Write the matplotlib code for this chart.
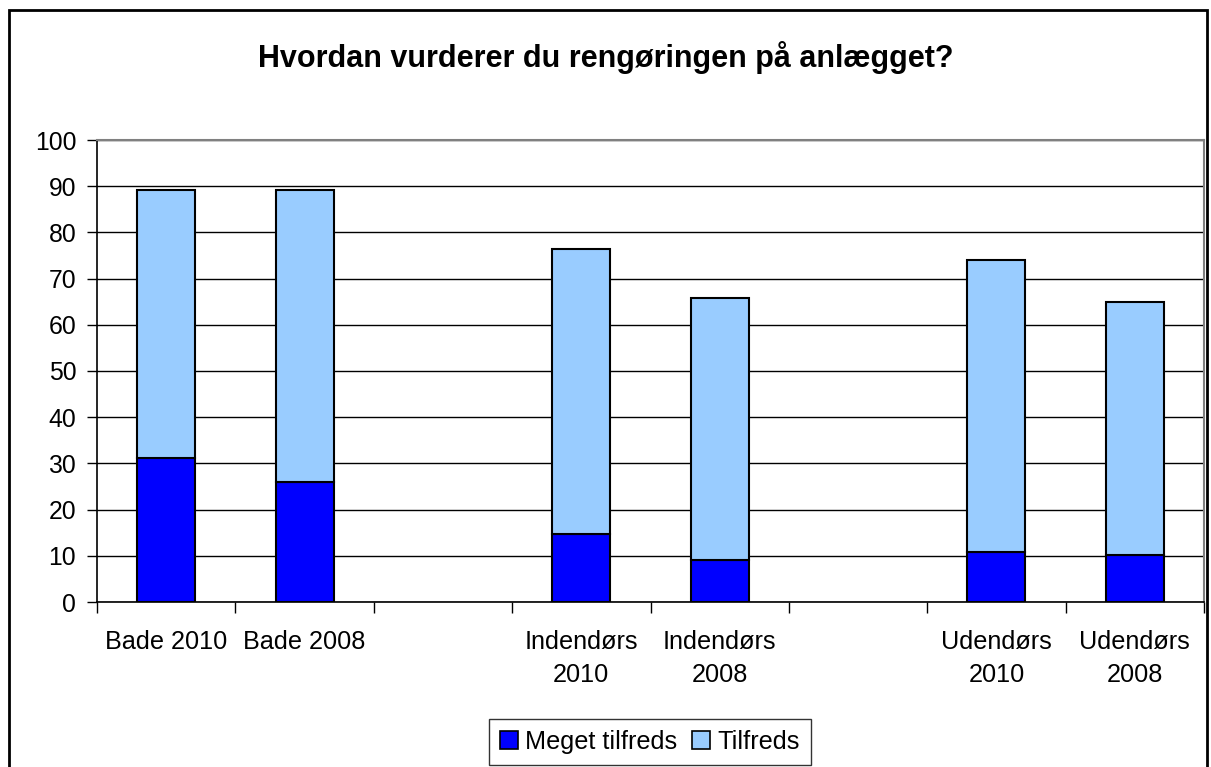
import matplotlib
matplotlib.use("Agg")
import matplotlib.pyplot as plt
from matplotlib.patches import Rectangle, Patch
import numpy as np

plt.rcParams['font.family'] = ['Liberation Sans', 'DejaVu Sans']

categories = ["Bade 2010", "Bade 2008", "", "Indendørs\n2010", "Indendørs\n2008", "", "Udendørs\n2010", "Udendørs\n2008"]
meget_tilfreds = [31.2, 26.0, np.nan, 14.7, 9.1, np.nan, 10.9, 10.1]
tilfreds = [58.0, 63.2, np.nan, 61.8, 56.6, np.nan, 63.1, 54.8]
series_names = ["Meget tilfreds", "Tilfreds"]
colors = ["#0000FF", "#99CCFF"]
title = "Hvordan vurderer du rengøringen på anlægget?"

W, H = 1211, 767
fig = plt.figure(figsize=(W / 100, H / 100), dpi=100)
ax = fig.add_axes([97 / W, 1 - 602 / H, (1204 - 97) / W, (602 - 140) / H])

x = np.arange(len(categories))
mt = np.array(meget_tilfreds)
t = np.array(tilfreds)
bw = 0.42
ax.bar(x, mt, width=bw, color=colors[0], edgecolor="black", linewidth=1.5, zorder=3)
ax.bar(x, t, width=bw, bottom=mt, color=colors[1], edgecolor="black", linewidth=1.5, zorder=3)

ax.set_xlim(-0.5, len(categories) - 0.5)
ax.set_ylim(0, 100)
ax.set_yticks(np.arange(0, 101, 10))
ax.tick_params(axis='y', labelsize=17.8, length=7, width=1, direction='out', pad=8)
ax.yaxis.grid(True, color="black", linewidth=1, zorder=0)
ax.set_axisbelow(True)

ax.set_xticks(x)
ax.set_xticklabels(categories, fontsize=18.2, linespacing=1.5, va='top')
ax.tick_params(axis='x', length=0, pad=20)
ax.set_xticks(np.arange(-0.5, len(categories), 1), minor=True)
ax.tick_params(axis='x', which='minor', length=8, width=1, direction='out')

for s in ['left', 'bottom']:
    ax.spines[s].set_color('black')
    ax.spines[s].set_linewidth(1.2)
for s in ['top', 'right']:
    ax.spines[s].set_color('#808080')
    ax.spines[s].set_linewidth(1.5)

fig.text(606 / W, 1 - 57 / H, title, fontsize=22, fontweight='bold', ha='center', va='center')

handles = [Patch(facecolor=colors[i], edgecolor='black', linewidth=1.2) for i in range(2)]
leg = fig.legend(handles, series_names, loc='center', bbox_to_anchor=(650 / W, 1 - 742 / H),
                 ncol=2, fontsize=18.2, frameon=True, fancybox=False, edgecolor='black',
                 handlelength=0.7, handleheight=0.7, handletextpad=0.3, columnspacing=0.6,
                 borderpad=0.45)
leg.get_frame().set_linewidth(1.0)

fig.patches.append(Rectangle((9 / W, -0.05), (1207 - 9) / W, 1 - 10 / H + 0.05,
                             transform=fig.transFigure, fill=False, edgecolor='black', linewidth=2))

fig.savefig("out.png", dpi=100)
